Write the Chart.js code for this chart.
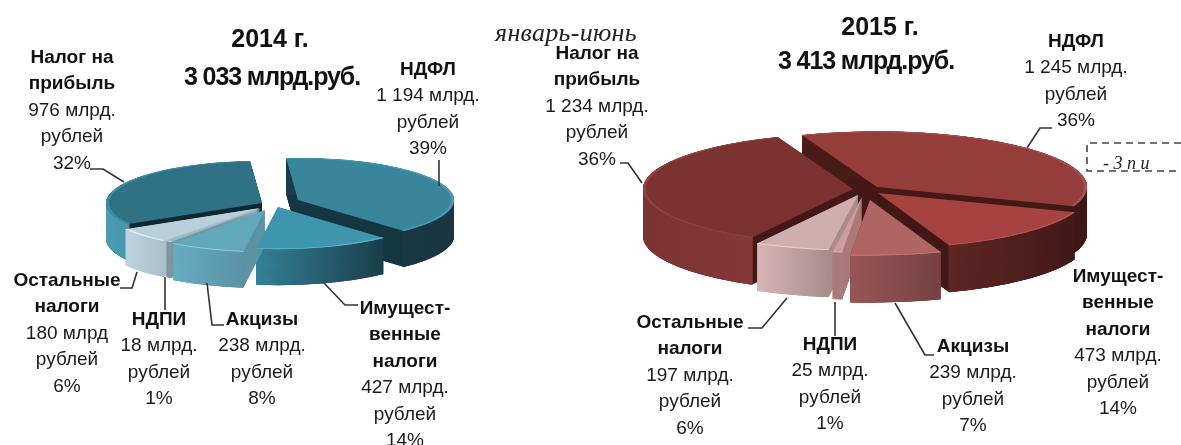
<!DOCTYPE html>
<html lang="ru"><head><meta charset="utf-8">
<script src="https://cdn.jsdelivr.net/npm/chart.js@4"></script>
<style>
html,body{margin:0;padding:0;background:#fff;overflow:hidden}
#stage{position:relative;width:1181px;height:445px;overflow:hidden;font-family:"Liberation Sans Narrow","Liberation Sans",Arial,sans-serif;color:#1b1b1b}
canvas{position:absolute;top:0}
svg{position:absolute;left:0;top:0}
.lab{position:absolute;transform:translateX(-50%);text-align:center;white-space:nowrap;font-size:19px;line-height:26.4px}
.lab b{font-weight:700;color:#111}
.ttl{position:absolute;transform:translateX(-50%);white-space:nowrap;font-weight:700;font-size:25px;line-height:30px;color:#111;font-family:"Liberation Sans",Arial,sans-serif}
.ser{position:absolute;white-space:nowrap;font-family:"Liberation Serif",serif;font-style:italic;color:#222}
</style></head><body>
<div id="stage">
<canvas id="c14" width="590" height="445" style="left:0"></canvas>
<canvas id="c15" width="591" height="445" style="left:590px"></canvas>
<svg id="lines" width="1181" height="445"></svg>
</div>
<script>
// ---------- data ----------
const categories = [["НДФЛ"],["Имущест-","венные","налоги"],["Акцизы"],["НДПИ"],["Остальные","налоги"],["Налог на","прибыль"]];
const values2014 = [1194,427,238,18,180,976];
const values2015 = [1245,473,239,25,197,1234];
const amount2014 = ["1 194 млрд.","427 млрд.","238 млрд.","18 млрд.","180 млрд","976 млрд."];
const amount2015 = ["1 245 млрд.","473 млрд.","239 млрд.","25 млрд.","197 млрд.","1 234 млрд."];
const percent2014 = ["39%","14%","8%","1%","6%","32%"];
const percent2015 = ["36%","14%","7%","1%","6%","36%"];
const titles2014 = ["2014 г.","3 033 млрд.руб."];
const titles2015 = ["2015 г.","3 413 млрд.руб."];

// ---------- style / layout ----------
const paintOrder = [5,0,1,4,3,2];
// pull: how far each slice is moved out, in picture pixels [right, down]
const style2014 = {
  center:[264,204], radius:156, squash:0.27, depth:36, rotation:-4.4,
  pull:[[34,-4],[14,3],[1,6],[-1,4],[-4,4],[-2,-1]],
  top:["#39859c","#3d95ae","#62a8bd","#8fc0d0","#b9d0da","#2f7185"],
  rim:["#4a9ab2","#62b4cc","#88cfe2","#b5dbe6","#e2eff4","#3f8da5"],
  wall:[["#1b3c48","#183541"],["#35839a","#1a3d49"],["#66adc2","#5b92a6"],["#7c979f","#7c979f"],["#bed5de","#a9c1cc"],["#4b9db3","#2e7589"]],
  inner:["#163842","#1d4552","#5c93a6","#7c979f","#a9c1cc","#0e2a33"]
};
const style2015 = {
  center:[865,190], radius:210, squash:0.265, depth:47, rotation:-21,
  pull:[[12,-3],[13,3],[5,10],[-3,7],[-7,5],[-12,-1]],
  top:["#953d3b","#a64341","#b06563","#cf9b9b","#cfaeae","#7c3230"],
  rim:["#a84f4d","#b85654","#c47a78","#dcb0b0","#e8d0d0","#8f4240"],
  wall:[["#4a1b19","#3f1715"],["#5f2624","#421917"],["#995655","#754241"],["#a97c7c","#a97c7c"],["#d8b7b7","#a88d8d"],["#7a3230","#8b3b39"]],
  inner:["#451a18","#421917","#754241","#a97c7c","#a88d8d","#451a18"]
};
// label anchors: centre x, first-line centre y
const labelPos2014 = [[428,69],[405,308],[262,319],[159,319],[67,280],[72,57]];
const labelPos2015 = [[1076,41],[1118,276],[973,346],[830,344],[690,322],[597,53]];
const leaders = [
 "90,169 103,169 124,182","439,160 439,186","120,288 132,288 137,272","165,277 165,310","207,283 212,325 224,325","323,282 345,305 358,305",
 "620,163 628,163 642,183","1027,148 1040,128 1052,128","748,328 762,328 787,298","835,302 835,336","895,303 925,355 934,355"
];

// ---------- 3D plugin ----------
const pie3d = {
  id:'pie3d',
  afterDatasetsUpdate(chart,_a,o){
    // move slices out of the pie, keeping the library's angles and radius
    chart.getDatasetMeta(0).data.forEach((arc,i)=>{
      arc.x+=o.st.pull[i][0];
      arc.y+=o.st.pull[i][1]/o.st.squash;
    });
  },
  beforeDatasetsDraw(chart,_a,o){
    const st=o.st, ctx=chart.ctx, arcs=chart.getDatasetMeta(0).data, ca=chart.chartArea;
    ctx.save();
    ctx.translate(st.center[0]-chart.canvas.offsetLeft, st.center[1]);
    ctx.scale(1,st.squash);
    ctx.translate(-(ca.left+ca.right)/2,-(ca.top+ca.bottom)/2);
    const dz=st.depth/st.squash;
    paintOrder.forEach(i=>{
      const p=arcs[i], x=p.x, y=p.y, R=p.outerRadius;
      ctx.fillStyle=st.inner[i];
      for(let k=dz;k>0;k-=1.5){
        ctx.beginPath();ctx.moveTo(x,y+k);ctx.arc(x,y+k,R,p.startAngle,p.endAngle);ctx.closePath();ctx.fill();
      }
      let xs=[];for(let t=0;t<=20;t++){xs.push(x+R*Math.cos(p.startAngle+(p.endAngle-p.startAngle)*t/20));}
      const g=ctx.createLinearGradient(Math.min(...xs),0,Math.max(...xs),0);
      g.addColorStop(0,st.wall[i][0]);g.addColorStop(1,st.wall[i][1]);
      ctx.strokeStyle=g;ctx.lineWidth=3;
      for(let k=dz;k>=0;k-=1.5){
        ctx.beginPath();ctx.arc(x,y+k,R-1.5,p.startAngle,p.endAngle);ctx.stroke();
      }
    });
  },
  afterDatasetsDraw(chart,_a,o){
    const st=o.st, ctx=chart.ctx, arcs=chart.getDatasetMeta(0).data;
    ctx.lineWidth=3;
    arcs.forEach((p,i)=>{
      ctx.strokeStyle=st.rim[i];
      ctx.beginPath();ctx.arc(p.x,p.y,p.outerRadius-1.5,p.startAngle,p.endAngle);ctx.stroke();
    });
    ctx.restore();
  }
};
function makePie(id,values,st){
  new Chart(document.getElementById(id),{
    type:'pie',
    data:{labels:categories.map(c=>c.join(' ')),datasets:[{data:values,backgroundColor:st.top,borderWidth:0}]},
    options:{responsive:false,animation:false,rotation:st.rotation,radius:st.radius,
      layout:{padding:0},
      plugins:{legend:{display:false},tooltip:{enabled:false},title:{display:false},pie3d:{st}}},
    plugins:[pie3d]
  });
}
makePie('c14',values2014,style2014);
makePie('c15',values2015,style2015);

// ---------- text ----------
const stage=document.getElementById('stage');
function addLabels(amount,percent,pos){
  categories.forEach((c,i)=>{
    const d=document.createElement('div');d.className='lab';
    d.style.left=pos[i][0]+'px';d.style.top=(pos[i][1]-13)+'px';
    d.innerHTML=c.map(t=>'<b>'+t+'</b>').join('<br>')+'<br>'+amount[i]+'<br>рублей<br>'+percent[i];
    stage.appendChild(d);
  });
}
addLabels(amount2014,percent2014,labelPos2014);
addLabels(amount2015,percent2015,labelPos2015);
function addTitle(t,x,y,w){const d=document.createElement('div');d.className='ttl';d.textContent=t;d.style.left=x+'px';d.style.top=(y-15)+'px';if(w)d.style.letterSpacing=w;stage.appendChild(d);}
addTitle(titles2014[0],270,38);addTitle(titles2014[1],272,76,'-1.1px');
addTitle(titles2015[0],880,26);addTitle(titles2015[1],866,60,'-1.1px');
function addSerif(t,x,y,fs,ls){const d=document.createElement('div');d.className='ser';d.textContent=t;d.style.left=x+'px';d.style.top=y+'px';d.style.fontSize=fs+'px';d.style.letterSpacing=ls;stage.appendChild(d);}
addSerif('январь-июнь',495,18,26,'0.3px');
addSerif('- 3 п и',1103,153,18,'0');

// ---------- leaders & dashed box ----------
const svg=document.getElementById('lines');
svg.innerHTML=leaders.map(p=>`<polyline points="${p}" fill="none" stroke="#333" stroke-width="1.6"/>`).join('')
 +'<polyline points="1181,143 1087,143 1087,171 1181,171" fill="none" stroke="#444" stroke-width="1.6" stroke-dasharray="7 5"/>';
</script>
</body></html>
